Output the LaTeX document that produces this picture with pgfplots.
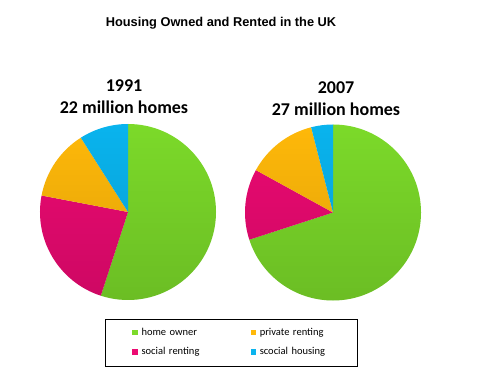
\documentclass[border=0pt]{standalone}
\usepackage{pgfplots}
\usepackage{pgfplotstable}
\pgfplotsset{compat=1.18}
\usetikzlibrary{fadings}
\usepackage{fontspec}
\setmainfont{Carlito}
\newfontfamily\arial{Liberation Sans}
\definecolor{homegreen}{HTML}{7CDA2A}
\definecolor{socialpink}{HTML}{EC0A72}
\definecolor{privorange}{HTML}{FFB90A}
\definecolor{socblue}{HTML}{0AB4EE}

\pgfplotstableread{
category y1991 y2007
home-owner 55 70
social-renting 23 13
private-renting 13 13
scocial-housing 9 4
}\housing

\newcommand\getvals[2]{% column, prefix
  \pgfplotstablegetelem{0}{#1}\of\housing\expandafter\let\csname #2a\endcsname\pgfplotsretval
  \pgfplotstablegetelem{1}{#1}\of\housing\expandafter\let\csname #2b\endcsname\pgfplotsretval
  \pgfplotstablegetelem{2}{#1}\of\housing\expandafter\let\csname #2c\endcsname\pgfplotsretval
  \pgfplotstablegetelem{3}{#1}\of\housing\expandafter\let\csname #2d\endcsname\pgfplotsretval
}
\getvals{y1991}{L}
\getvals{y2007}{R}
% angles (clockwise from 12 o'clock)
\pgfmathsetmacro\LA{90}
\pgfmathsetmacro\LB{\LA-3.6*\La}
\pgfmathsetmacro\LC{\LB-3.6*\Lb}
\pgfmathsetmacro\LD{\LC-3.6*\Lc}
\pgfmathsetmacro\LE{\LD-3.6*\Ld}
\pgfmathsetmacro\RA{90}
\pgfmathsetmacro\RB{\RA-3.6*\Ra}
\pgfmathsetmacro\RC{\RB-3.6*\Rb}
\pgfmathsetmacro\RD{\RC-3.6*\Rc}
\pgfmathsetmacro\RE{\RD-3.6*\Rd}

\newcommand\slice[6]{% cx cy r start end color
  \fill[#6] (axis cs:#1,#2) -- ++(#4:#3pt) arc[start angle=#4, end angle=#5, radius=#3pt] -- cycle;
}
\newcommand\legsq[1]{\fill[#1] (0pt,-1.5pt) rectangle (4.5pt,3pt);}

\begin{document}
\begin{tikzpicture}
\begin{axis}[
  width=486pt, height=388pt, scale only axis,
  xmin=0, xmax=486, ymin=0, ymax=388,
  hide axis, clip=false,
  legend columns=2,
  legend style={at={(axis cs:105,21.3)}, anchor=south west, draw=black, line width=0.7pt,
    inner xsep=27pt, inner ysep=9pt, font=\fontsize{10.5}{12}\selectfont,
    nodes={inner sep=0pt, text height=7pt, text depth=2.5pt},
    /tikz/every odd column/.append style={column sep=4pt},
    /tikz/every even column/.append style={column sep=0pt},
    row sep=10pt, cells={anchor=west}},
  legend cell align=left,
]
\path (axis cs:0,0) rectangle (axis cs:486,388);
\addlegendimage{legend image code/.code={\legsq{homegreen}}}
\addlegendentry[text width=109pt]{home owner}
\addlegendimage{legend image code/.code={\legsq{privorange}}}
\addlegendentry[text width=71pt]{private renting}
\addlegendimage{legend image code/.code={\legsq{socialpink}}}
\addlegendentry[text width=109pt]{social renting}
\addlegendimage{legend image code/.code={\legsq{socblue}}}
\addlegendentry[text width=71pt]{scocial housing}

\slice{128}{176}{88}{\LA}{\LB}{homegreen}
\slice{128}{176}{88}{\LB}{\LC}{socialpink}
\slice{128}{176}{88}{\LC}{\LD}{privorange}
\slice{128}{176}{88}{\LD}{\LE}{socblue}
\fill[black, fill opacity=0.13, path fading=north] (axis cs:128,176) circle[radius=88pt];

\slice{333}{175.5}{88}{\RA}{\RB}{homegreen}
\slice{333}{175.5}{88}{\RB}{\RC}{socialpink}
\slice{333}{175.5}{88}{\RC}{\RD}{privorange}
\slice{333}{175.5}{88}{\RD}{\RE}{socblue}
\fill[black, fill opacity=0.13, path fading=north] (axis cs:333,175.5) circle[radius=88pt];

\node[font=\arial\bfseries\fontsize{12.8}{14}\selectfont] at (axis cs:221,364.5) {Housing Owned and Rented in the UK};
\node[font=\bfseries\fontsize{18}{20}\selectfont, align=center] at (axis cs:124,291.5) {1991\\[2pt]22 million homes};
\node[font=\bfseries\fontsize{18}{20}\selectfont, align=center] at (axis cs:336,289.5) {2007\\[2pt]27 million homes};
\end{axis}
\end{tikzpicture}
\end{document}
